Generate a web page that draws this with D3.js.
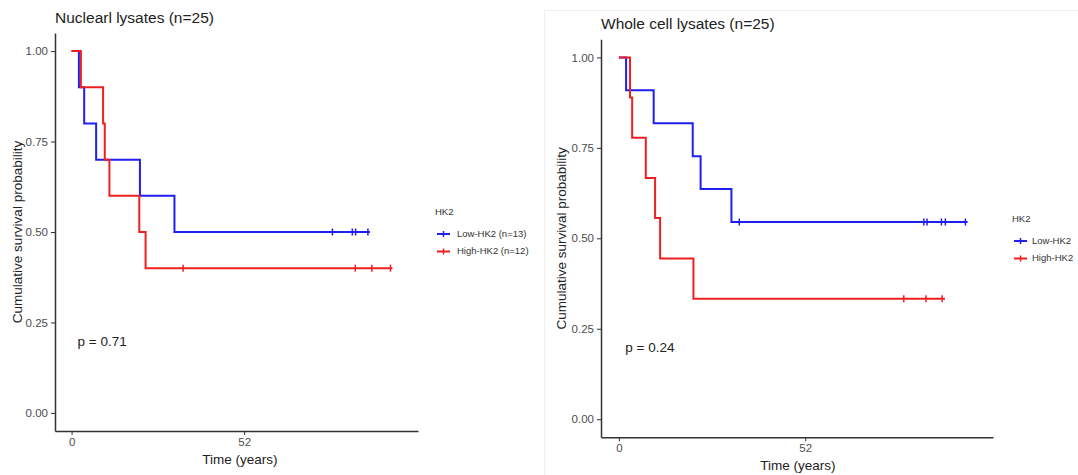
<!DOCTYPE html>
<html>
<head>
<meta charset="utf-8">
<script src="https://cdn.jsdelivr.net/npm/d3@7"></script>
<style>
  body { margin: 0; background: #fff; }
  svg { font-family: "Liberation Sans", Arial, sans-serif; }
</style>
</head>
<body>
<svg id="chart" width="1078" height="475"></svg>
<script>
// ---- data ----
const yTicks = [0, 0.25, 0.5, 0.75, 1];
const xTicks = [0, 52];
const groups = ["Low-HK2", "High-HK2"];

// nuclear lysates: step times and survival after each step
const nucLowTimes = [0, 2.2, 3.8, 7.4, 20.6, 31.0];
const nucLowSurv = [1, 0.9, 0.8, 0.7, 0.6, 0.5];
const nucLowCensor = [78.6, 84.6, 85.6, 89.3];
const nucLowEnd = 89.9;

const nucHighTimes = [0, 2.8, 9.5, 10.0, 11.4, 20.4, 22.3];
const nucHighSurv = [1, 0.9, 0.8, 0.7, 0.6, 0.5, 0.4];
const nucHighCensor = [33.6, 85.5, 90.5, 96.1];
const nucHighEnd = 96.7;

// whole cell lysates
const wcLowTimes = [0, 2.0, 9.7, 20.6, 22.8, 31.4];
const wcLowSurv = [1, 0.909, 0.818, 0.727, 0.636, 0.545];
const wcLowCensor = [33.6, 85.1, 86.0, 90.0, 91.1, 96.7];
const wcLowEnd = 97.3;

const wcHighTimes = [0, 3.1, 3.7, 7.5, 10.1, 11.5, 20.8];
const wcHighSurv = [1, 0.889, 0.778, 0.667, 0.556, 0.444, 0.333];
const wcHighCensor = [79.5, 85.7, 90.2];
const wcHighEnd = 91.0;

const colors = ["#1f1ff0", "#f01f1f"];

const svg = d3.select("#chart");

// faint frame of the second image
svg.append("rect").attr("x", 544.5).attr("y", 10.5).attr("width", 540).attr("height", 470)
  .attr("fill", "none").attr("stroke", "#f0f0f0");

function curve(times, surv, censor, end) {
  return { times, surv, censor, end };
}

function survAt(c, t) {
  let s = c.surv[0];
  c.times.forEach((tt, i) => { if (tt <= t) s = c.surv[i]; });
  return s;
}

function drawPanel(o) {
  const g = svg.append("g");
  const x = d3.scaleLinear().domain([-5, 104.4]).range([o.left, o.right]);
  const y = d3.scaleLinear().domain([-0.05, 1.05]).range([o.bottom, o.top]);

  g.append("text").attr("x", o.left).attr("y", o.top - 10)
    .attr("font-size", 15.5).attr("fill", "#222").text(o.title);

  // axes
  const yAxis = d3.axisLeft(y).tickValues(yTicks).tickFormat(d3.format(".2f"))
    .tickSizeInner(4).tickSizeOuter(0).tickPadding(3);
  const xAxis = d3.axisBottom(x).tickValues(xTicks)
    .tickSizeInner(4).tickSizeOuter(0).tickPadding(3);
  const ya = g.append("g").attr("transform", `translate(${o.left},0)`).call(yAxis);
  const xa = g.append("g").attr("transform", `translate(0,${o.bottom})`).call(xAxis);
  [ya, xa].forEach(a => {
    a.select(".domain").attr("stroke", "#333").attr("stroke-width", 1.5);
    a.selectAll(".tick line").attr("stroke", "#333");
    a.selectAll(".tick text").attr("font-size", 11.5).attr("fill", "#4d4d4d")
      .attr("font-family", "Liberation Sans, Arial, sans-serif");
  });

  // axis titles
  g.append("text").attr("x", o.xTitleX).attr("y", o.bottom + 33)
    .attr("text-anchor", "middle").attr("font-size", 13.5).attr("fill", "#222").text("Time (years)");
  g.append("text").attr("transform", `translate(${o.yTitleX},${(y(1) + y(0)) / 2}) rotate(-90)`)
    .attr("text-anchor", "middle").attr("dominant-baseline", "middle")
    .attr("font-size", 13.5).attr("fill", "#222").text("Cumulative survival probability");

  // curves
  const line = d3.line().x(d => x(d[0])).y(d => y(d[1])).curve(d3.curveStepAfter);
  o.curves.forEach((c, i) => {
    const pts = c.times.map((t, k) => [t, c.surv[k]]);
    pts.push([c.end, c.surv[c.surv.length - 1]]);
    g.append("path").attr("d", line(pts)).attr("fill", "none")
      .attr("stroke", colors[i]).attr("stroke-width", 2);
    c.censor.forEach(t => {
      const cx = x(t), cy = y(survAt(c, t));
      g.append("line").attr("x1", cx).attr("x2", cx).attr("y1", cy - 3.5).attr("y2", cy + 3.5)
        .attr("stroke", colors[i]).attr("stroke-width", 1.5);
    });
  });

  // p value
  g.append("text").attr("x", x(1.8)).attr("y", y(o.pY)).attr("dominant-baseline", "middle")
    .attr("font-size", 13.5).attr("fill", "#222").text(o.p);

  // legend
  const lg = g.append("g").attr("transform", `translate(${o.legX},${o.legY})`);
  lg.append("text").attr("x", 0).attr("y", 0).attr("font-size", 9.5).attr("fill", "#333").text("HK2");
  o.labels.forEach((lab, i) => {
    const yy = 19 + i * 17.5;
    lg.append("line").attr("x1", 2).attr("x2", 15).attr("y1", yy).attr("y2", yy)
      .attr("stroke", colors[i]).attr("stroke-width", 2);
    lg.append("line").attr("x1", 8.5).attr("x2", 8.5).attr("y1", yy - 3).attr("y2", yy + 3)
      .attr("stroke", colors[i]).attr("stroke-width", 1.5);
    lg.append("text").attr("x", o.legTextDx).attr("y", yy).attr("dominant-baseline", "middle")
      .attr("font-size", 9.5).attr("fill", "#333").text(lab);
  });
}

drawPanel({
  title: "Nuclearl lysates (n=25)",
  left: 55, right: 418, top: 33, bottom: 431,
  xTitleX: 240, yTitleX: 18,
  curves: [curve(nucLowTimes, nucLowSurv, nucLowCensor, nucLowEnd),
           curve(nucHighTimes, nucHighSurv, nucHighCensor, nucHighEnd)],
  p: "p = 0.71", pY: 0.195,
  legX: 435, legY: 215, legTextDx: 22,
  labels: [groups[0] + " (n=13)", groups[1] + " (n=12)"]
});

drawPanel({
  title: "Whole cell lysates (n=25)",
  left: 601, right: 993, top: 39.3, bottom: 437.3,
  xTitleX: 798, yTitleX: 562,
  curves: [curve(wcLowTimes, wcLowSurv, wcLowCensor, wcLowEnd),
           curve(wcHighTimes, wcHighSurv, wcHighCensor, wcHighEnd)],
  p: "p = 0.24", pY: 0.195,
  legX: 1012, legY: 222, legTextDx: 20,
  labels: [groups[0], groups[1]]
});
</script>
</body>
</html>
